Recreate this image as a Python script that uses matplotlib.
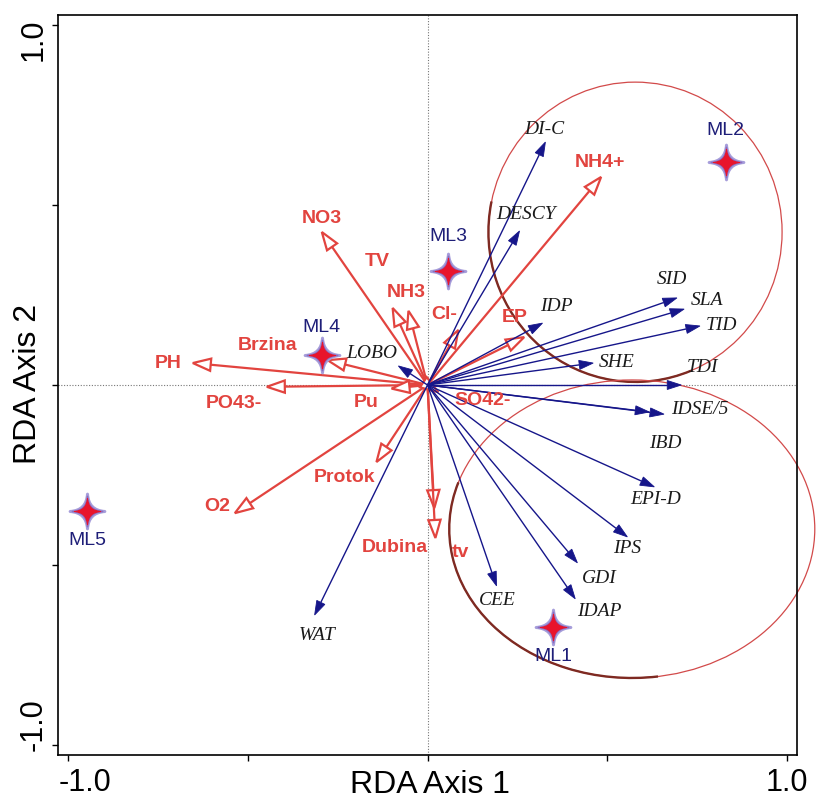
import numpy as np
import matplotlib
matplotlib.use("Agg")
import matplotlib.pyplot as plt
from matplotlib.patches import Ellipse, Arc, Polygon
from matplotlib.path import Path

# ---- RDA scores -------------------------------------------------------------
site_names = ["ML1", "ML2", "ML3", "ML4", "ML5"]
site_x = [0.350, 0.830, 0.058, -0.294, -0.947]
site_y = [-0.672, 0.619, 0.317, 0.083, -0.350]

env_names = ["NH4+", "NO3", "TV", "NH3", "Cl-", "EP", "PH", "Brzina",
             "PO43-", "Pu", "Protok", "O2", "Dubina", "tv", "SO42-"]
env_x = [0.483, -0.294, -0.097, -0.053, 0.086, 0.269, -0.653, -0.278,
         -0.447, -0.100, -0.142, -0.536, 0.019, 0.022, 0.030]
env_y = [0.578, 0.425, 0.214, 0.206, 0.153, 0.133, 0.061, 0.069,
         -0.005, -0.010, -0.214, -0.356, -0.342, -0.425, -0.020]

sp_names = ["DI-C", "DESCY", "IDP", "SID", "SLA", "TID", "SHE", "TDI",
            "IDSE/5", "IBD", "EPI-D", "IPS", "GDI", "IDAP", "CEE", "WAT", "LOBO"]
sp_x = [0.328, 0.256, 0.320, 0.694, 0.714, 0.758, 0.461, 0.706,
        0.658, 0.617, 0.631, 0.556, 0.417, 0.411, 0.192, -0.314, -0.081]
sp_y = [0.675, 0.428, 0.172, 0.242, 0.211, 0.164, 0.061, 0.000,
        -0.081, -0.075, -0.283, -0.422, -0.494, -0.594, -0.558, -0.639, 0.053]

# site groups (ellipses): centre x, centre y, width, height
group_cx = [0.578, 0.569]
group_cy = [0.425, -0.400]
group_w = [0.817, 1.017]
group_h = [0.833, 0.828]

# ---- label placement (pixel offsets from the arrow tip / point) -------------
site_off = {"ML1": (0, -30), "ML2": (0, 32), "ML3": (0, 34), "ML4": (0, 28),
            "ML5": (0, -30)}
env_off = {"NH4+": (-1, 14), "NO3": (0, 14), "TV": (-15, 46), "NH3": (-2, 18),
           "Cl-": (-14, 15), "EP": (-10, 20), "PH": (-25, 0), "Brzina": (-60, 15),
           "PO43-": (-33, -17), "Pu": (-25, -14), "Protok": (-32, -15),
           "O2": (-18, 7), "Dubina": (-40, -39), "tv": (25, -15), "SO42-": (44, -8)}
sp_off = {"DI-C": (-1, 13), "DESCY": (7, 16), "IDP": (14, 17), "SID": (-5, 18),
          "SLA": (23, 9), "TID": (22, 0), "SHE": (23, 1), "TDI": (21, 18),
          "IDSE/5": (36, 5), "IBD": (16, -32), "EPI-D": (1, -13), "IPS": (0, -12),
          "GDI": (22, -16), "IDAP": (24, -13), "CEE": (1, -15), "WAT": (3, -21),
          "LOBO": (-27, 12)}

RED = "#e2443f"
NAVY = "#16168a"
SITE_TXT = "#1e1e78"
SANS = "Liberation Sans"
SERIF = "Liberation Serif"

fig = plt.figure(figsize=(8.16, 8.01), dpi=100)
ax = fig.add_axes([58 / 816, 1 - 755 / 801, 739 / 816, 740 / 801])
lim = 1.028
ax.set_xlim(-lim, lim)
ax.set_ylim(-lim, lim)

# zero lines
ax.axhline(0, color="#777777", lw=0.8, ls=(0, (1, 1.5)), zorder=0)
ax.axvline(0, color="#777777", lw=0.8, ls=(0, (1, 1.5)), zorder=0)

# group ellipses, with a darker lower-left rim
dark_arcs = [(168, 292), (165, 280)]
for cx, cy, w, h, (t1, t2) in zip(group_cx, group_cy, group_w, group_h, dark_arcs):
    ax.add_patch(Ellipse((cx, cy), w, h, fill=False, ec="#d24a4a", lw=0.9,
                         clip_on=False, zorder=1))
    ax.add_patch(Arc((cx, cy), w, h, theta1=t1, theta2=t2, ec="#7e2a22",
                     lw=1.7, clip_on=False, zorder=1))

def arrow(x, y, color, hl, hw, lw, hollow, z):
    L = np.hypot(x, y)
    ux, uy = x / L, y / L
    bx, by = x - ux * hl, y - uy * hl
    ax.plot([0, bx], [0, by], color=color, lw=lw, solid_capstyle="butt", zorder=z)
    px, py = -uy, ux
    tri = [(x, y), (bx + px * hw, by + py * hw), (bx - px * hw, by - py * hw)]
    ax.add_patch(Polygon(tri, closed=True, fc="white" if hollow else color,
                         ec=color, lw=lw if hollow else 0.6, zorder=z,
                         joinstyle="miter"))

# environmental vectors: hollow heads
for name, x, y in zip(env_names, env_x, env_y):
    arrow(x, y, RED, 0.050, 0.017, 1.6, True, 2)
    dx, dy = env_off[name]
    ax.annotate(name, (x, y), xytext=(dx, dy), textcoords="offset pixels",
                ha="center", va="center", color=RED, fontsize=14,
                fontweight="bold", family=SANS, zorder=5)

# species vectors: filled heads
for name, x, y in zip(sp_names, sp_x, sp_y):
    arrow(x, y, NAVY, 0.039, 0.0125, 1.0, False, 3)
    dx, dy = sp_off[name]
    ax.annotate(name, (x, y), xytext=(dx, dy), textcoords="offset pixels",
                ha="center", va="center", color="#1a1a1a", fontsize=14,
                style="italic", family=SERIF, zorder=5)

# four-pointed star marker with concave sides
tips = [(0, 1), (-1, 0), (0, -1), (1, 0)]
c = 0.06
ctrl = [(-c, c), (-c, -c), (c, -c), (c, c)]
sv, sc = [tips[0]], [Path.MOVETO]
for k in range(4):
    sv += [ctrl[k], tips[(k + 1) % 4]]
    sc += [Path.CURVE3, Path.CURVE3]
sv.append(tips[0])
sc.append(Path.CLOSEPOLY)
star = Path(sv, sc)

ax.plot(site_x, site_y, ls="none", marker=star, ms=25, mfc="#a69dda",
        mec="#a69dda", mew=2.2, zorder=6)
ax.plot(site_x, site_y, ls="none", marker=star, ms=22, mfc="#8a6ec2",
        mec="#8a6ec2", mew=1.0, zorder=6)
ax.plot(site_x, site_y, ls="none", marker=star, ms=19, mfc="#e8142c",
        mec="#e8142c", mew=0.8, zorder=7)
for name, x, y in zip(site_names, site_x, site_y):
    dx, dy = site_off[name]
    ax.annotate(name, (x, y), xytext=(dx, dy), textcoords="offset pixels",
                ha="center", va="center", color=SITE_TXT, fontsize=14,
                family=SANS, zorder=8)

# frame and ticks
for s in ax.spines.values():
    s.set_linewidth(1.2)
ticks = [-1.0, -0.5, 0.0, 0.5, 1.0]
ax.set_xticks(ticks)
ax.set_yticks(ticks)
ax.set_xticklabels([])
ax.set_yticklabels([])
ax.tick_params(direction="out", length=4, width=1.0)

tick_txt = {-1.0: "-1.0", 1.0: "1.0"}
x_shift = {-1.0: 17, 1.0: 0}
y_shift = {-1.0: 20, 1.0: -15}
for v, t in tick_txt.items():
    ax.annotate(t, (v, 0), xycoords=("data", "axes fraction"),
                xytext=(x_shift[v], -28), textcoords="offset pixels",
                ha="center", va="center", fontsize=22, family=SANS)
    ax.annotate(t, (0, v), xycoords=("axes fraction", "data"),
                xytext=(-24, y_shift[v]), textcoords="offset pixels",
                ha="center", va="center", fontsize=22, family=SANS, rotation=90)

fig.text(430 / 816, 1 - 785 / 801, "RDA Axis 1", ha="center", va="center",
         fontsize=23, family=SANS)
fig.text(28 / 816, 1 - 384 / 801, "RDA Axis 2", ha="center", va="center",
         fontsize=23, family=SANS, rotation=90)

fig.savefig("out.png", dpi=100)
